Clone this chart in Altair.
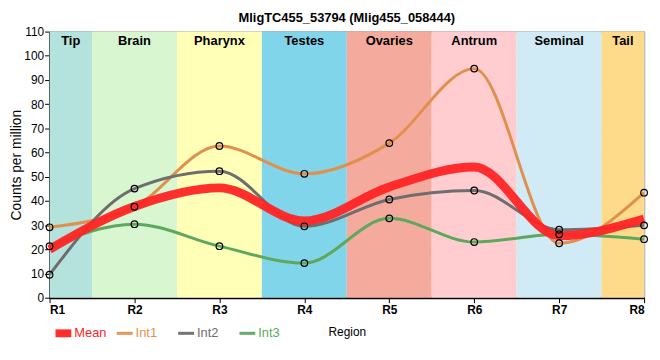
import altair as alt
import pandas as pd

# ---- data ----
regions = ["R1", "R2", "R3", "R4", "R5", "R6", "R7", "R8"]
xpos = [1, 2, 3, 4, 5, 6, 7, 8]
mean_v = [20.0, 37.7, 45.4, 31.7, 45.8, 54.0, 25.6, 32.5]
int1 = [29.1, 37.6, 62.7, 51.2, 63.9, 94.7, 22.5, 43.4]
int2 = [9.5, 45.1, 52.3, 29.5, 40.6, 44.3, 28.1, 29.9]
int3 = [21.3, 30.4, 21.3, 14.3, 32.8, 23.0, 26.2, 24.2]

band_names = ["Tip", "Brain", "Pharynx", "Testes", "Ovaries", "Antrum", "Seminal", "Tail"]
band_start = [1, 1.5, 2.5, 3.5, 4.5, 5.5, 6.5, 7.5]
band_end = [1.5, 2.5, 3.5, 4.5, 5.5, 6.5, 7.5, 8]
band_colors = ["#b4e2dd", "#d8f6d0", "#ffffb8", "#80d5eb", "#f4ab9e",
               "#ffcdd0", "#d0ebf5", "#fedb8b"]

series = ["Mean", "Int1", "Int2", "Int3"]
series_colors = ["#ff2424", "#e0904e", "#6e6e6e", "#5ea85e"]

# ---- tables ----
rows = []
for name, vals in zip(series, [mean_v, int1, int2, int3]):
    for r, x, v in zip(regions, xpos, vals):
        rows.append({"series": name, "region": r, "x": x, "value": v})
df = pd.DataFrame(rows)
bands = pd.DataFrame({"name": band_names, "start": band_start, "end": band_end,
                      "color": band_colors,
                      "mid": [(a + b) / 2 for a, b in zip(band_start, band_end)]})

W, H = 601, 269
xscale = alt.Scale(domain=[1, 8], nice=False, zero=False)
yscale = alt.Scale(domain=[0, 110], nice=False)

xaxis = alt.Axis(values=xpos, labelExpr="'R' + datum.value", title="Region",
                 grid=True, labelFontWeight="bold", labelFontSize=12,
                 titleFontSize=12, titleFontWeight="normal", titlePadding=11,
                 labelPadding=2)
yaxis = alt.Axis(values=list(range(0, 111, 10)), title="Counts per million",
                 grid=True, labelFontSize=12, titleFontSize=14, labelPadding=1,
                 titleFontWeight="normal", titlePadding=0)


def X(field):
    return alt.X(field, scale=xscale, axis=xaxis)


def Y(field):
    return alt.Y(field, scale=yscale, axis=yaxis)


rects = alt.Chart(bands).mark_rect().encode(
    x=X("start:Q"),
    x2="end:Q",
    y=alt.datum(0, scale=yscale, axis=yaxis),
    y2=alt.datum(110),
    color=alt.Color("color:N", scale=None),
)

labels = alt.Chart(bands).mark_text(fontWeight="bold", fontSize=13, baseline="top",
                                     dy=4, color="black").encode(
    x=X("mid:Q"),
    y=alt.datum(110, scale=yscale, axis=yaxis),
    text="name:N",
)

color_scale = alt.Scale(domain=series, range=series_colors)

color_expr = ("datum.value == 'Mean' ? '" + series_colors[0] + "' : datum.value == 'Int1' ? '"
              + series_colors[1] + "' : datum.value == 'Int2' ? '" + series_colors[2]
              + "' : '" + series_colors[3] + "'")
shape_expr = ("datum.value == 'Mean' ? 'M-1,-0.5H1V0.5H-1Z' : 'M-1,-0.19H1V0.19H-1Z'")

legend = alt.Legend(orient="none", legendX=6, legendY=H + 28, direction="horizontal",
                    title=None, symbolType=alt.ExprRef(shape_expr),
                    symbolFillColor=alt.ExprRef(color_expr), symbolStrokeWidth=0,
                    symbolSize=256, padding=0, gridAlign="all",
                    labelFontSize=13, labelColor=alt.ExprRef(color_expr),
                    columnPadding=10, labelOffset=3)

ind = df[df.series != "Mean"]
mean_df = df[df.series == "Mean"]

ind_lines = alt.Chart(ind).mark_line(interpolate="monotone", strokeWidth=3).encode(
    x=X("x:Q"),
    y=Y("value:Q"),
    color=alt.Color("series:N", scale=color_scale, legend=legend),
)
mean_line = alt.Chart(mean_df).mark_line(interpolate="monotone", strokeWidth=9,
                                          opacity=0.95).encode(
    x=X("x:Q"),
    y=Y("value:Q"),
    color=alt.Color("series:N", scale=color_scale, legend=legend),
)

points = alt.Chart(ind).mark_point(filled=False, color="black", size=45,
                                    strokeWidth=1.2, opacity=1).encode(
    x=X("x:Q"),
    y=Y("value:Q"),
)

chart = alt.layer(rects, labels, ind_lines, mean_line, points).properties(
    width=W, height=H,
    autosize=alt.AutoSizeParams(type="none"),
    padding={"left": 42, "top": 22, "right": 8, "bottom": 50},
    title=alt.TitleParams("MligTC455_53794 (Mlig455_058444)", fontSize=13,
                          fontWeight="bold", offset=1, font="Liberation Sans"),
).configure(font="Liberation Sans").configure_view(
    stroke="black", strokeWidth=1
).configure_axis(
    domainColor="black", domainWidth=2, tickColor="black", tickSize=5,
    gridColor="#cccccc", gridWidth=1, labelColor="black", titleColor="black",
).configure_legend(symbolStrokeWidth=0)

chart.save("out.html", embed_options={"renderer": "svg", "actions": False})
